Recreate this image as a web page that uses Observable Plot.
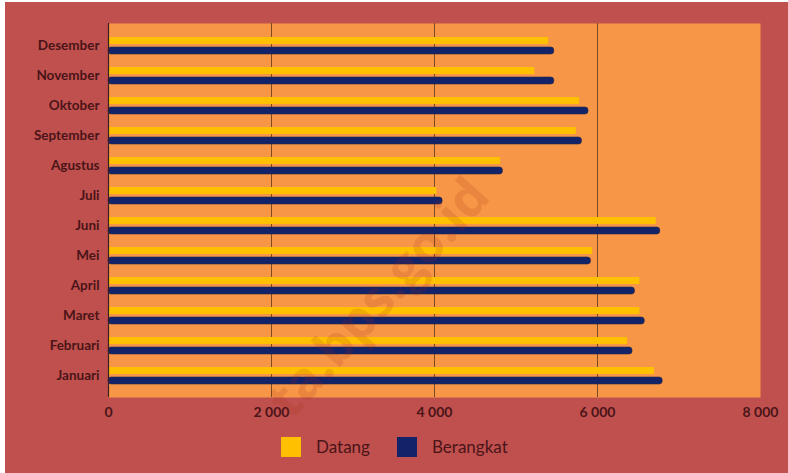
<!DOCTYPE html>
<html>
<head>
<meta charset="utf-8">
<script src="https://cdn.jsdelivr.net/npm/d3@7"></script>
<script src="https://cdn.jsdelivr.net/npm/@observablehq/plot@0.6"></script>
<style>
  html, body { margin: 0; padding: 0; background: #ffffff; }
  #wrap { position: absolute; left: 5px; top: 2px; width: 783px; height: 471px; background: #c0504d; overflow: hidden; font-family: Lato, "Open Sans", sans-serif; }
  #chart svg { display: block; }
  #legend { position: absolute; left: 0; top: 435px; width: 783px; height: 22px; }
  .sw { position: absolute; top: 0; width: 20px; height: 20px; }
  .lb { position: absolute; top: 0; line-height: 20px; font-size: 17px; color: #4a1418; font-family: Lato, "Open Sans", sans-serif; }
  #wm { position: absolute; left: 0; top: 0; pointer-events: none; }
</style>
</head>
<body>
<div id="wrap">
  <div id="chart"></div>
  <div id="legend">
    <div class="sw" style="left:276px; background:#ffc000;"></div>
    <div class="lb" style="left:311px;">Datang</div>
    <div class="sw" style="left:392px; background:#13236a;"></div>
    <div class="lb" style="left:427px;">Berangkat</div>
  </div>
  <svg id="wm" width="783" height="471">
    <text x="487" y="196" transform="rotate(-48 487 196)" text-anchor="end" font-family="'Open Sans', sans-serif" font-weight="bold" font-size="52" fill="#a0281c" fill-opacity="0.15">ta.bps.go.id</text>
  </svg>
</div>
<script>
const months = ["Januari","Februari","Maret","April","Mei","Juni","Juli","Agustus","September","Oktober","November","Desember"];
const datang    = [6700, 6370, 6520, 6520, 5940, 6720, 4030, 4810, 5740, 5780, 5230, 5400];
const berangkat = [6800, 6430, 6580, 6460, 5920, 6770, 4100, 4840, 5810, 5890, 5470, 5470];
const xTicks = [0, 2000, 4000, 6000, 8000];
const seriesNames = ["Datang", "Berangkat"];

const rowsD = months.map((m, i) => ({month: m, value: datang[i], series: seriesNames[0]}));
const rowsB = months.map((m, i) => ({month: m, value: berangkat[i], series: seriesNames[1]}));

const fmt = v => v === 0 ? "0" : d3.format(",")(v).replace(/,/g, "\u00a0");

const chart = Plot.plot({
  width: 783,
  height: 426,
  marginLeft: 103,
  marginRight: 28,
  marginTop: 21,
  marginBottom: 31,
  style: { background: "transparent", fontFamily: "Lato, 'Open Sans', sans-serif", fontSize: "13px", color: "#4a1418" },
  x: { domain: [0, 8000], ticks: xTicks, tickFormat: fmt, label: null },
  y: { domain: months.slice().reverse(), paddingInner: 0.44, paddingOuter: 0.415, label: null },
  marks: [
    Plot.frame({ fill: "#f79646", stroke: null }),
    Plot.ruleX([2000, 4000, 6000], { stroke: "#7a4a22", strokeWidth: 1 }),
    Plot.barX(rowsD, { x: "value", y: "month", fill: "#ffc000", insetBottom: 10 }),
    Plot.barX(rowsB, { x: "value", y: "month", fill: "#13236a", stroke: "#2a2a48", strokeWidth: 0.6, insetTop: 10, rx: 3 }),
    Plot.ruleX([0], { stroke: "#3a2020", strokeWidth: 1.2 }),
    Plot.axisX({ ticks: xTicks, tickFormat: fmt, tickSize: 0, tickPadding: 10, fontWeight: "bold", fontSize: 14, fill: "#4a1418", label: null }),
    Plot.axisY({ tickSize: 0, tickPadding: 9, fontWeight: "bold", fontSize: 13.5, fill: "#4a1418", label: null })
  ]
});
document.getElementById("chart").appendChild(chart);
</script>
</body>
</html>
